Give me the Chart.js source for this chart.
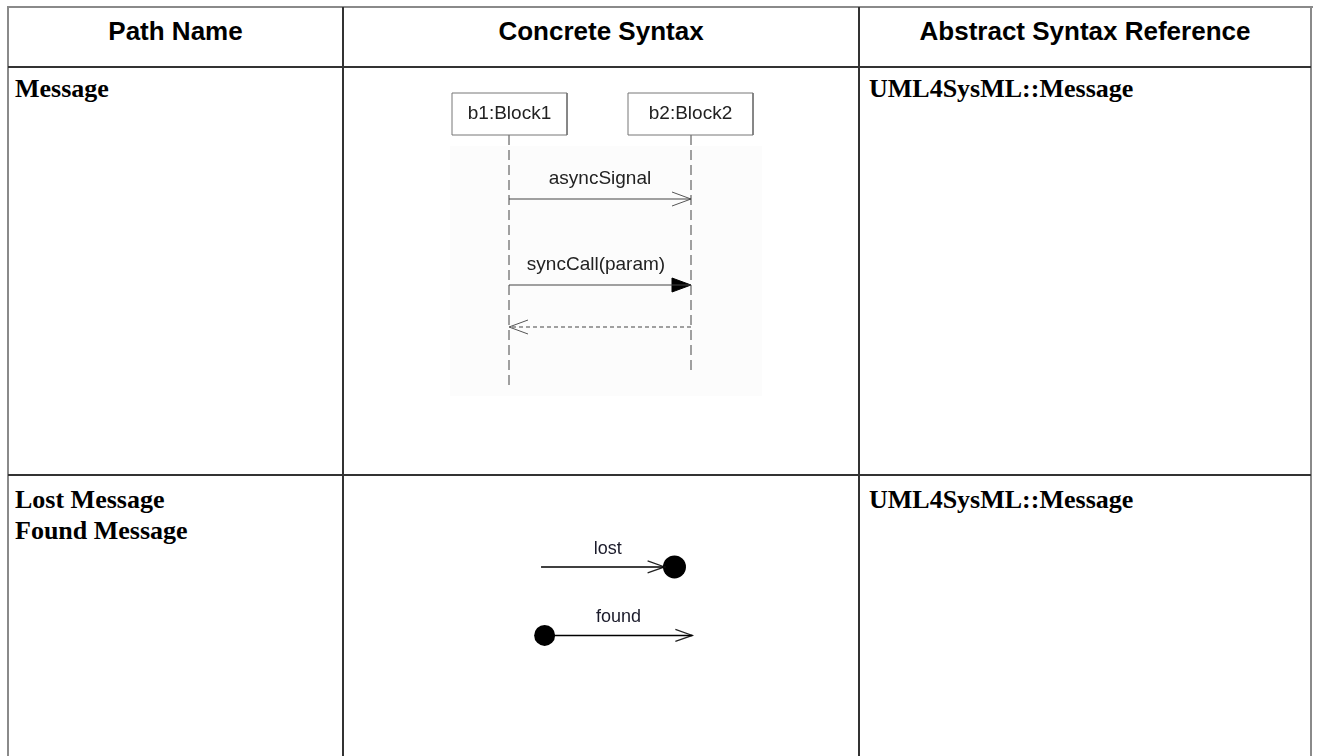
<!DOCTYPE html>
<html><head><meta charset="utf-8">
<script src="https://cdn.jsdelivr.net/npm/chart.js@4"></script>
<style>
html,body{margin:0;padding:0;background:#fff;width:1319px;height:756px;overflow:hidden;position:relative}
.ln{position:absolute;background:#333}
.out{position:absolute;background:#8a8a8a}
.hd{position:absolute;font-family:"Liberation Sans",Arial,sans-serif;font-weight:bold;font-size:26px;line-height:30px;color:#000;text-align:center;white-space:nowrap}
.bd{position:absolute;font-family:"Liberation Serif","Times New Roman",serif;font-weight:bold;font-size:26px;line-height:31px;color:#000;white-space:nowrap}
.cv{position:absolute}
.bg{position:absolute;background:#fcfcfc}
</style></head><body>
<div class="out" style="left:7px;top:6px;width:1306px;height:2px"></div>
<div class="out" style="left:7px;top:6px;width:2px;height:760px"></div>
<div class="out" style="left:1310px;top:6px;width:2px;height:760px"></div>
<div class="ln" style="left:342px;top:7px;width:2px;height:760px"></div>
<div class="ln" style="left:858px;top:7px;width:2px;height:760px"></div>
<div class="ln" style="left:8px;top:66px;width:1303px;height:2px"></div>
<div class="ln" style="left:8px;top:474px;width:1303px;height:2px"></div>

<div id="headers"></div>
<div id="cells"></div>

<div class="bg" style="left:450px;top:146px;width:312px;height:250px"></div>
<div class="cv" style="left:420px;top:80px;width:360px;height:330px"><canvas id="seq" width="360" height="330"></canvas></div>
<div class="cv" style="left:500px;top:510px;width:220px;height:160px"><canvas id="lf" width="220" height="160"></canvas></div>

<script>
// ---- table text ----
const columnHeaders = ['Path Name', 'Concrete Syntax', 'Abstract Syntax Reference'];
const pathNames = [['Message'], ['Lost Message', 'Found Message']];
const abstractRefs = ['UML4SysML::Message', 'UML4SysML::Message'];

// ---- sequence diagram data (diagram units) ----
const lifelineNames = ['b1:Block1', 'b2:Block2'];
const lifelineX = [89, 271];
const lifelineEnd = [310, 290];
const boxLeft = [32, 208];
const boxRight = [147, 333];
const boxTop = [13, 13];
const boxBottom = [55, 55];
const messageLabels = ['asyncSignal', 'syncCall(param)', ''];
const messageFrom = [0, 0, 1];
const messageTo = [1, 1, 0];
const messageY = [119, 205, 247];
const messageKind = ['async', 'sync', 'reply'];

// ---- lost / found data ----
const lfLabels = ['lost', 'found'];
const lfStartX = [33, 37];
const lfEndX = [171, 202];
const lfY = [53, 133];
const lfDotX = [182, 37];

// ---- build table text ----
const colBounds = [[8, 343], [343, 859], [859, 1311]];
const hdr = document.getElementById('headers');
columnHeaders.forEach((t, i) => {
  const d = document.createElement('div');
  d.className = 'hd';
  d.style.left = colBounds[i][0] + 'px';
  d.style.width = (colBounds[i][1] - colBounds[i][0]) + 'px';
  d.style.top = '16px';
  d.textContent = t;
  hdr.appendChild(d);
});
const rowTops = [73, 484];
const cells = document.getElementById('cells');
pathNames.forEach((lines, r) => {
  const d = document.createElement('div');
  d.className = 'bd';
  d.style.left = '15px';
  d.style.top = rowTops[r] + 'px';
  d.innerHTML = lines.join('<br>');
  cells.appendChild(d);
  const a = document.createElement('div');
  a.className = 'bd';
  a.style.left = '869px';
  a.style.top = rowTops[r] + 'px';
  a.textContent = abstractRefs[r];
  cells.appendChild(a);
});

// ---- helpers ----
const HEAD_LEN = 19, HEAD_HALF = 7;
function openHead(tipX, y, dir) { // dir: +1 pointing right, -1 pointing left
  const bx = tipX - dir * HEAD_LEN;
  return [{x: bx, y: y - HEAD_HALF}, {x: tipX, y: y}, {x: bx, y: y + HEAD_HALF}];
}
function lineDs(data, opts) {
  return Object.assign({data, showLine: true, pointRadius: 0, borderColor: '#333', borderWidth: 1, fill: false, tension: 0}, opts || {});
}

const textPlugin = {
  id: 'diagramText',
  afterDatasetsDraw(chart) {
    const items = chart.options.plugins.diagramText.items || [];
    const {ctx, scales: {x, y}} = chart;
    ctx.save();
    ctx.textAlign = 'center';
    ctx.textBaseline = 'middle';
    items.forEach(it => {
      ctx.font = it.font;
      ctx.fillStyle = it.color;
      ctx.fillText(it.text, x.getPixelForValue(it.x), y.getPixelForValue(it.y));
    });
    ctx.restore();
  }
};
Chart.register(textPlugin);

function baseOptions(w, h, items) {
  return {
    responsive: false, maintainAspectRatio: false, animation: false,
    layout: {padding: 0},
    plugins: {legend: {display: false}, tooltip: {enabled: false}, diagramText: {items}},
    scales: {
      x: {type: 'linear', display: false, min: 0, max: w},
      y: {type: 'linear', display: false, min: 0, max: h, reverse: true}
    }
  };
}

// ---- sequence diagram ----
const seqDs = [];
const seqText = [];
lifelineNames.forEach((n, i) => {
  seqDs.push(lineDs([
    {x: boxLeft[i], y: boxTop[i]}, {x: boxRight[i], y: boxTop[i]},
    {x: boxRight[i], y: boxBottom[i]}, {x: boxLeft[i], y: boxBottom[i]},
    {x: boxLeft[i], y: boxTop[i]}], {borderColor: '#777', backgroundColor: '#fff', fill: 'shape'}));
  seqDs.push(lineDs([{x: lifelineX[i], y: boxBottom[i]}, {x: lifelineX[i], y: lifelineEnd[i]}],
    {borderColor: '#444', borderDash: [10, 5]}));
  seqText.push({text: n, x: (boxLeft[i] + boxRight[i]) / 2, y: (boxTop[i] + boxBottom[i]) / 2, font: '19px "Liberation Sans", Arial, sans-serif', color: '#222'});
});
messageLabels.forEach((lab, i) => {
  const x0 = lifelineX[messageFrom[i]], x1 = lifelineX[messageTo[i]], y = messageY[i];
  const dir = x1 > x0 ? 1 : -1;
  const kind = messageKind[i];
  seqDs.push(lineDs([{x: x0, y}, {x: x1, y}], kind === 'reply' ? {borderDash: [4, 3], borderColor: '#444'} : {borderColor: '#444'}));
  if (kind === 'sync') {
    const h = openHead(x1, y, dir);
    seqDs.push(lineDs([h[0], h[1], h[2], h[0]], {borderColor: '#000', backgroundColor: '#000', fill: 'shape'}));
  } else {
    seqDs.push(lineDs(openHead(x1, y, dir), {borderColor: '#555'}));
  }
  if (lab) seqText.push({text: lab, x: (x0 + x1) / 2 - (kind === 'sync' ? 4 : 0), y: y - 20, font: '19px "Liberation Sans", Arial, sans-serif', color: '#222'});
});
new Chart(document.getElementById('seq'), {type: 'scatter', data: {datasets: seqDs}, options: baseOptions(360, 330, seqText)});

// ---- lost / found ----
const lfDs = [];
const lfText = [];
lfLabels.forEach((lab, i) => {
  lfDs.push(lineDs([{x: lfStartX[i], y: lfY[i]}, {x: lfEndX[i], y: lfY[i]}], {borderColor: '#000', borderWidth: 1.5}));
  lfDs.push(lineDs(openHead(lfEndX[i], lfY[i], 1), {borderColor: '#222', borderWidth: 1.2}));
  lfDs.push({data: [{x: lfDotX[i], y: lfY[i]}], pointRadius: i === 0 ? 11.5 : 10.5, pointBackgroundColor: '#000', pointBorderColor: '#000', pointBorderWidth: 0, showLine: false});
  lfText.push({text: lab, x: (Math.min(lfStartX[i], lfDotX[i]) + Math.max(lfEndX[i], lfDotX[i])) / 2, y: lfY[i] - 21, font: '18px "Liberation Sans", Arial, sans-serif', color: '#1a1a2a'});
});
new Chart(document.getElementById('lf'), {type: 'scatter', data: {datasets: lfDs}, options: baseOptions(220, 160, lfText)});
</script>
</body></html>
